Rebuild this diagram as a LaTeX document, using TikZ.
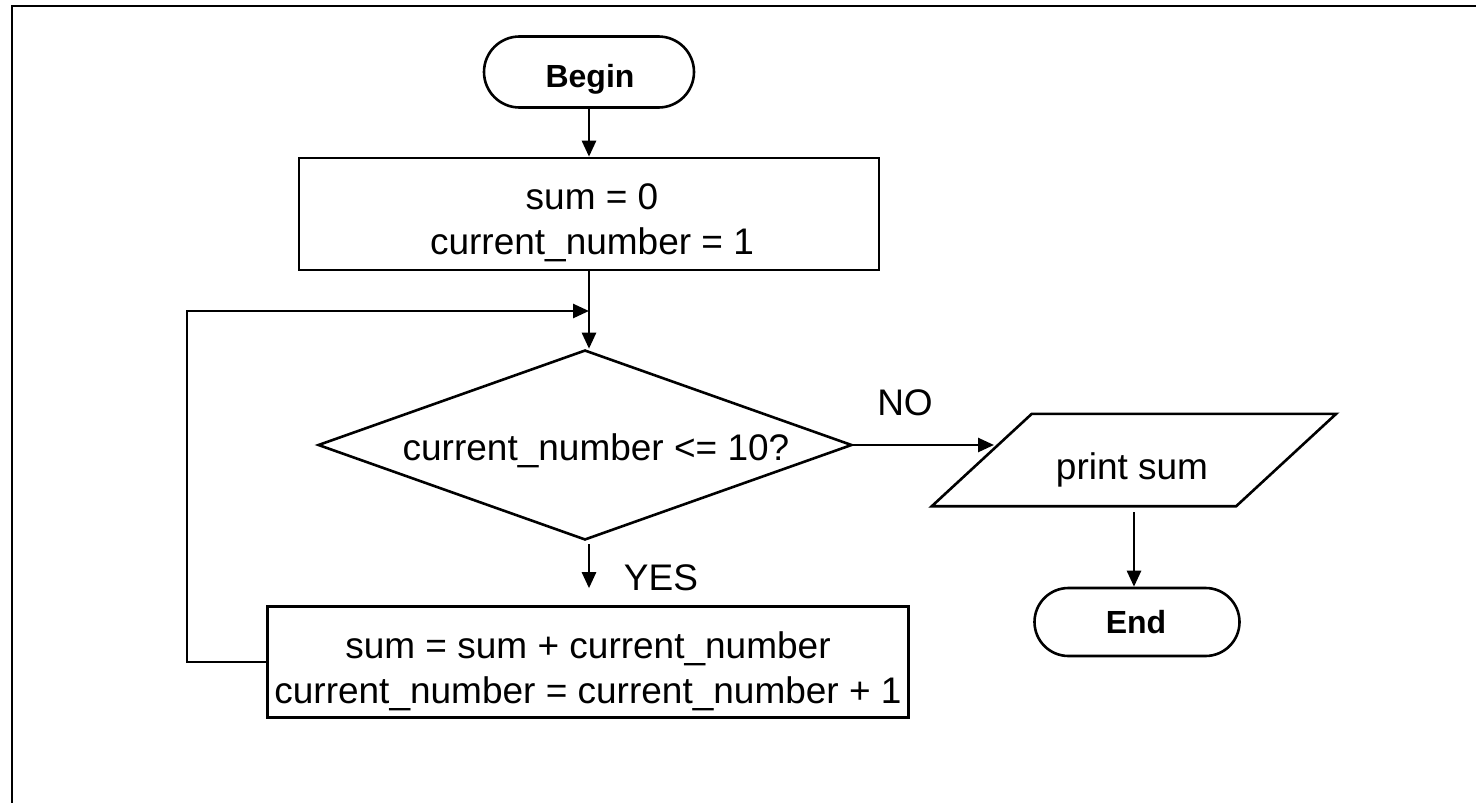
\documentclass[tikz,border=0pt]{standalone}
\usepackage{fontspec}
\setmainfont{Liberation Sans}
\usetikzlibrary{shapes.geometric,shapes.misc,arrows.meta}
\tikzset{
  shp/.style={draw=black,line width=2.6pt,inner sep=0pt},
  term/.style={shp,rounded rectangle},
  procbox/.style={shp,rectangle},
  decbox/.style={shp,diamond},
  txt/.style={inner sep=0pt,font=\fontsize{37}{45}\selectfont,align=center},
  btxt/.style={inner sep=0pt,font=\fontsize{32}{38}\selectfont\bfseries},
  arr/.style={line width=2.6pt,-{Triangle[length=16pt,width=14pt]}}
}
\begin{document}
\begin{tikzpicture}[x=1pt,y=-1pt]
\useasboundingbox (0,0) rectangle (1476,803);
\draw[line width=2.4pt] (12,803) -- (12,6) -- (1476,6);
% shapes
\node[term,minimum width=210pt,minimum height=71pt] (begin) at (589,72) {};
\node[procbox,minimum width=580pt,minimum height=112pt] (init) at (589,214) {};
\node[decbox,minimum width=534pt,minimum height=190pt] (dec) at (585,445) {};
\node[procbox,minimum width=641pt,minimum height=111pt] (loop) at (588,662) {};
\node[inner sep=0pt,minimum width=304pt,minimum height=92pt] (out) at (1134,460) {};
\draw[line width=2.6pt] ([xshift=50pt]out.north west) -- ([xshift=50pt]out.north east) -- ([xshift=-50pt]out.south east) -- ([xshift=-50pt]out.south west) -- cycle;
\node[term,minimum width=205pt,minimum height=68pt] (end) at (1137,622) {};
% texts
\node[btxt] (begint) at (590,79) {Begin};
\node[txt] (initt) at (592,223) {sum = 0\\current\_number = 1};
\node[txt] (dect) at (596,451) {current\_number <= 10?};
\node[txt] (loopt) at (588,671) {sum = sum + current\_number\\current\_number = current\_number + 1};
\node[txt] (outt) at (1132,470) {print sum};
\node[btxt] (endt) at (1136,622) {End};
\node[txt] (yes) at (661,578) {YES};
\node[txt] (no) at (905,403) {NO};
% connectors
\coordinate (join) at (589,311);
\coordinate (lx) at (187,311);
\coordinate (noend) at (994,445);
\draw[arr] (begin.south) -- (init.north);
\draw[arr] (init.south) -- (dec.north -| init.south);
\draw[arr,shorten <=3pt,shorten >=17pt] (dec.south -| init.south) -- (loop.north -| init.south);
\draw[arr] (loop.west) -| (lx) -- (join);
\draw[arr] (dec.east) -- (noend);
\draw[arr,shorten <=6pt] (out.south) -- (end.north -| out.south);
\end{tikzpicture}
\end{document}
